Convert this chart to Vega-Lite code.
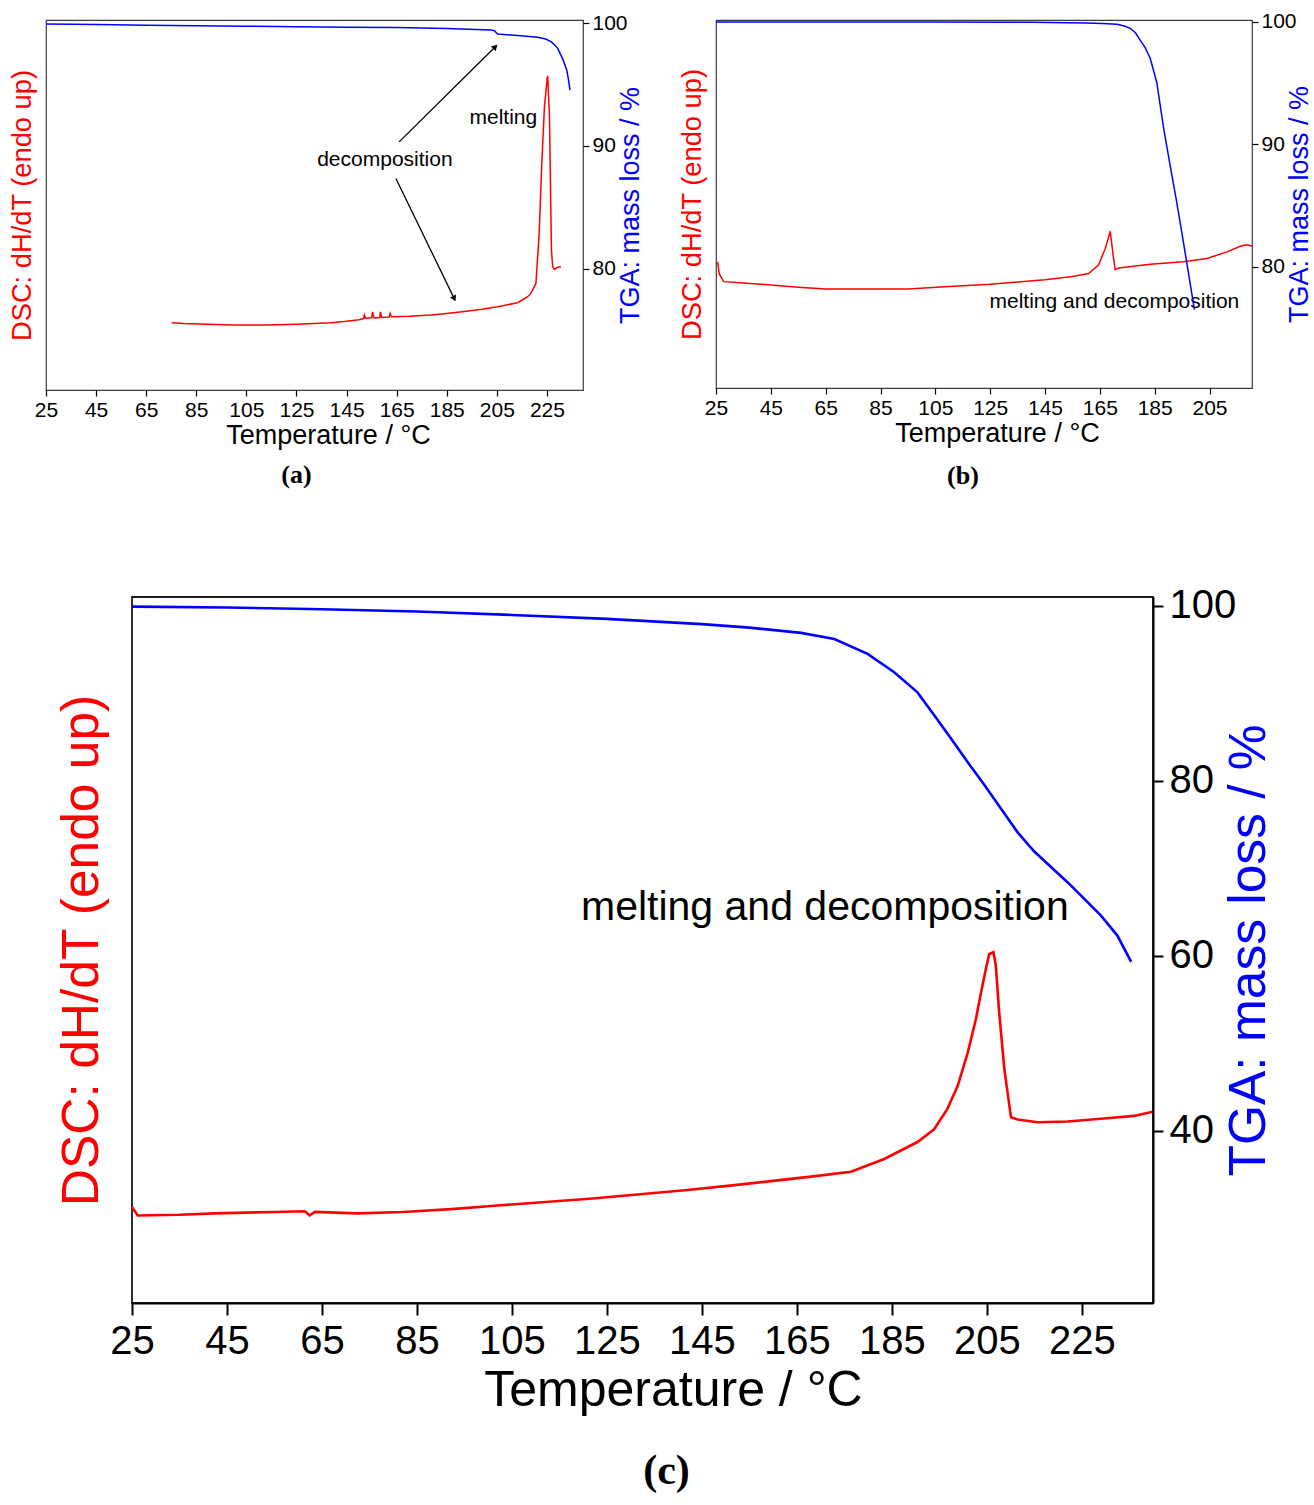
{
  "$schema": "https://vega.github.io/schema/vega-lite/v6.json",
  "background": "white",
  "padding": {"left": 7, "top": 10, "right": 0, "bottom": 0},
  "spacing": 94,
  "config": {
    "font": "Liberation Sans",
    "axis": {"grid": false, "labelColor": "#000000", "titleColor": "#000000", "titleFontWeight": "normal", "tickColor": "#000000", "domainColor": "#000000", "labelFont": "Liberation Sans", "titleFont": "Liberation Sans", "labelFlush": false, "labelOverlap": false},
    "view": {"stroke": "#3c3c3c", "strokeWidth": 1.2},
    "title": {"font": "Liberation Serif", "color": "#000000"},
    "text": {"font": "Liberation Sans"}
  },
  "datasets": {
    "dscA": [
      {"T": 75.2, "dsc": 18.2}, {"T": 80, "dsc": 18.0}, {"T": 89.5, "dsc": 17.75}, {"T": 100, "dsc": 17.6}, {"T": 113.5, "dsc": 17.6}, {"T": 125, "dsc": 17.8}, {"T": 138.8, "dsc": 18.2}, {"T": 145, "dsc": 18.6}, {"T": 150, "dsc": 19.0}, {"T": 151.8, "dsc": 19.3}, {"T": 152.1, "dsc": 20.3}, {"T": 152.6, "dsc": 19.4}, {"T": 155, "dsc": 19.5}, {"T": 155.4, "dsc": 21.1}, {"T": 155.9, "dsc": 19.5}, {"T": 158.2, "dsc": 19.6}, {"T": 158.5, "dsc": 21.1}, {"T": 159, "dsc": 19.6}, {"T": 162, "dsc": 19.7}, {"T": 162.4, "dsc": 20.7}, {"T": 162.9, "dsc": 19.8}, {"T": 170, "dsc": 19.9}, {"T": 178.7, "dsc": 20.3}, {"T": 185, "dsc": 20.7}, {"T": 192, "dsc": 21.2}, {"T": 199, "dsc": 21.8}, {"T": 205.3, "dsc": 22.5}, {"T": 213.3, "dsc": 23.6}, {"T": 217.3, "dsc": 25.2}, {"T": 218.6, "dsc": 26.1}, {"T": 220.6, "dsc": 28.8}, {"T": 221.9, "dsc": 42.4}, {"T": 222.9, "dsc": 60.4}, {"T": 224, "dsc": 76.6}, {"T": 225.1, "dsc": 84.2}, {"T": 225.3, "dsc": 84.9}, {"T": 226, "dsc": 73.9}, {"T": 226.4, "dsc": 55.9}, {"T": 226.8, "dsc": 37.8}, {"T": 227.3, "dsc": 33.3}, {"T": 228, "dsc": 32.6}, {"T": 229.3, "dsc": 33.2}, {"T": 230.6, "dsc": 33.3}
    ],
    "tgaA": [
      {"T": 25, "tga": 99.94}, {"T": 45, "tga": 99.9}, {"T": 65, "tga": 99.85}, {"T": 85, "tga": 99.8}, {"T": 105, "tga": 99.76}, {"T": 125, "tga": 99.72}, {"T": 145, "tga": 99.67}, {"T": 165, "tga": 99.65}, {"T": 185, "tga": 99.58}, {"T": 202.6, "tga": 99.45}, {"T": 204, "tga": 99.4}, {"T": 205.3, "tga": 99.13}, {"T": 213.3, "tga": 99.0}, {"T": 221.3, "tga": 98.86}, {"T": 224.5, "tga": 98.72}, {"T": 226.6, "tga": 98.5}, {"T": 228, "tga": 98.25}, {"T": 229.3, "tga": 97.96}, {"T": 231.3, "tga": 97.1}, {"T": 232.9, "tga": 96.2}, {"T": 233.6, "tga": 95.4}, {"T": 234.2, "tga": 94.55}
    ],
    "notesA": [
      {"T": 207.6, "tga": 92.24, "label": "melting"},
      {"T": 160.3, "tga": 88.84, "label": "decomposition"}
    ],
    "arrowsA": [
      {"T": 166.0, "tga": 90.33, "T2": 204.4, "tga2": 98.09, "target": "mass step"},
      {"T": 164.7, "tga": 87.35, "T2": 188.0, "tga2": 77.55, "target": "heat flow"}
    ],
    "tipsA": [
      {"T": 204.4, "tga": 98.09, "target": "mass step"},
      {"T": 188.0, "tga": 77.55, "target": "heat flow"}
    ],
    "dscB": [
      {"T": 25.6, "dsc": 34.3}, {"T": 26.2, "dsc": 31.0}, {"T": 27.8, "dsc": 28.9}, {"T": 35, "dsc": 28.5}, {"T": 45, "dsc": 28.0}, {"T": 55, "dsc": 27.4}, {"T": 65, "dsc": 26.9}, {"T": 80, "dsc": 26.9}, {"T": 95, "dsc": 26.9}, {"T": 110, "dsc": 27.6}, {"T": 125, "dsc": 28.2}, {"T": 135, "dsc": 28.8}, {"T": 145, "dsc": 29.4}, {"T": 155, "dsc": 30.3}, {"T": 160.9, "dsc": 31.1}, {"T": 164.5, "dsc": 33.4}, {"T": 167, "dsc": 37.9}, {"T": 168.8, "dsc": 42.6}, {"T": 170, "dsc": 35.2}, {"T": 170.6, "dsc": 32.2}, {"T": 172, "dsc": 32.6}, {"T": 174.9, "dsc": 32.9}, {"T": 183.4, "dsc": 33.6}, {"T": 195.5, "dsc": 34.3}, {"T": 204.1, "dsc": 35.2}, {"T": 211.4, "dsc": 37.0}, {"T": 216.2, "dsc": 38.5}, {"T": 218.5, "dsc": 38.9}, {"T": 220.5, "dsc": 38.6}
    ],
    "tgaB": [
      {"T": 25, "tga": 99.97}, {"T": 60, "tga": 99.97}, {"T": 100, "tga": 99.97}, {"T": 140, "tga": 99.95}, {"T": 160, "tga": 99.9}, {"T": 166, "tga": 99.85}, {"T": 171.2, "tga": 99.8}, {"T": 174, "tga": 99.65}, {"T": 176.1, "tga": 99.46}, {"T": 178, "tga": 99.1}, {"T": 179.7, "tga": 98.5}, {"T": 181.5, "tga": 97.9}, {"T": 183.4, "tga": 97.0}, {"T": 185.8, "tga": 95.0}, {"T": 188.2, "tga": 91.4}, {"T": 190.7, "tga": 88.2}, {"T": 193.1, "tga": 85.2}, {"T": 195.2, "tga": 82.4}, {"T": 199.5, "tga": 76.5}
    ],
    "notesB": [
      {"T": 170.3, "tga": 77.14, "label": "melting and decomposition"}
    ],
    "dscC": [
      {"T": 25, "dsc": 13.6}, {"T": 26.2, "dsc": 12.4}, {"T": 35, "dsc": 12.5}, {"T": 42.5, "dsc": 12.7}, {"T": 55, "dsc": 12.9}, {"T": 61.4, "dsc": 13.0}, {"T": 62.4, "dsc": 12.4}, {"T": 63.5, "dsc": 12.9}, {"T": 72.4, "dsc": 12.7}, {"T": 82, "dsc": 12.9}, {"T": 92.3, "dsc": 13.3}, {"T": 102, "dsc": 13.8}, {"T": 112.1, "dsc": 14.3}, {"T": 122, "dsc": 14.8}, {"T": 132, "dsc": 15.4}, {"T": 142, "dsc": 16.0}, {"T": 151.9, "dsc": 16.7}, {"T": 160, "dsc": 17.3}, {"T": 168, "dsc": 17.9}, {"T": 176.4, "dsc": 18.6}, {"T": 183.4, "dsc": 20.4}, {"T": 190.4, "dsc": 22.8}, {"T": 193.9, "dsc": 24.6}, {"T": 196.7, "dsc": 27.5}, {"T": 198.9, "dsc": 30.8}, {"T": 201, "dsc": 35.5}, {"T": 202.7, "dsc": 40.2}, {"T": 203.8, "dsc": 44.0}, {"T": 204.8, "dsc": 47.3}, {"T": 205.5, "dsc": 49.4}, {"T": 206.4, "dsc": 49.7}, {"T": 206.9, "dsc": 47.8}, {"T": 207.6, "dsc": 41.2}, {"T": 208.7, "dsc": 33.1}, {"T": 210.1, "dsc": 26.3}, {"T": 211.5, "dsc": 26.0}, {"T": 215.7, "dsc": 25.6}, {"T": 222, "dsc": 25.7}, {"T": 229, "dsc": 26.1}, {"T": 236, "dsc": 26.5}, {"T": 239.9, "dsc": 27.1}
    ],
    "tgaC": [
      {"T": 25, "tga": 99.9}, {"T": 45, "tga": 99.8}, {"T": 65, "tga": 99.6}, {"T": 85, "tga": 99.35}, {"T": 105, "tga": 98.95}, {"T": 125, "tga": 98.5}, {"T": 145, "tga": 97.9}, {"T": 155, "tga": 97.5}, {"T": 165.9, "tga": 96.9}, {"T": 172.9, "tga": 96.2}, {"T": 179.9, "tga": 94.5}, {"T": 185.5, "tga": 92.4}, {"T": 190.4, "tga": 90.1}, {"T": 193.9, "tga": 87.5}, {"T": 197.5, "tga": 84.8}, {"T": 201, "tga": 82.1}, {"T": 204.5, "tga": 79.5}, {"T": 208, "tga": 76.8}, {"T": 211.5, "tga": 74.1}, {"T": 215, "tga": 71.9}, {"T": 222, "tga": 68.4}, {"T": 229, "tga": 64.6}, {"T": 232.5, "tga": 62.3}, {"T": 235.4, "tga": 59.3}
    ],
    "notesC": [
      {"T": 170.9, "tga": 65.4, "label": "melting and decomposition"}
    ]
  },
  "vconcat": [
    {
      "spacing": 33,
      "hconcat": [
        {
          "width": 537,
          "height": 370,
          "title": {"text": "(a)", "orient": "bottom", "fontSize": 26, "fontWeight": "bold", "anchor": "middle", "frame": "group", "dx": -18, "offset": 14},
          "encoding": {
            "x": {"field": "T", "type": "quantitative", "scale": {"domain": [25, 239.4], "nice": false, "zero": false},
                  "axis": {"values": [25, 45, 65, 85, 105, 125, 145, 165, 185, 205, 225], "title": "Temperature / °C", "titleFontSize": 27, "titlePadding": 2, "titleX": 282, "labelFontSize": 21, "labelPadding": 3, "labelDx": 4, "tickSize": 6, "tickWidth": 1.2, "domain": false}}
          },
          "layer": [
            {
              "data": {"name": "dscA"},
              "mark": {"type": "line", "color": "#ff0000", "strokeWidth": 1.5},
              "encoding": {
                "y": {"field": "dsc", "type": "quantitative", "scale": {"domain": [0, 100], "nice": false, "zero": false},
                      "axis": {"orient": "left", "title": "DSC: dH/dT (endo up)", "titleColor": "#ff0000", "titleFontSize": 27.3, "titlePadding": 10, "labels": false, "ticks": false, "domain": false}}
              }
            },
            {
              "encoding": {
                "y": {"field": "tga", "type": "quantitative", "scale": {"domain": [70.1, 100.27], "nice": false, "zero": false},
                      "axis": {"orient": "right", "values": [80, 90, 100], "title": "TGA: mass loss / %", "titleColor": "#0000ff", "titleFontSize": 27, "titleAngle": 270, "titleBaseline": "top", "titlePadding": -10, "labelFontSize": 21, "labelPadding": 3, "tickSize": 6, "tickWidth": 1.2, "domain": false}}
              },
              "layer": [
                {
                  "data": {"name": "tgaA"},
                  "mark": {"type": "line", "color": "#0000ff", "strokeWidth": 1.5}
                },
                {
                  "data": {"name": "notesA"},
                  "mark": {"type": "text", "fontSize": 21, "color": "#000000", "align": "center", "baseline": "middle"},
                  "encoding": {"text": {"field": "label"}}
                },
                {
                  "data": {"name": "arrowsA"},
                  "mark": {"type": "rule", "color": "#000000", "strokeWidth": 1.3},
                  "encoding": {"x2": {"field": "T2"}, "y2": {"field": "tga2"}}
                },
                {
                  "data": {"name": "tipsA"},
                  "transform": [{"filter": {"field": "target", "equal": "mass step"}}],
                  "mark": {"type": "point", "shape": "triangle-up", "filled": true, "color": "#000000", "opacity": 1, "size": 45, "angle": 45}
                },
                {
                  "data": {"name": "tipsA"},
                  "transform": [{"filter": {"field": "target", "equal": "heat flow"}}],
                  "mark": {"type": "point", "shape": "triangle-up", "filled": true, "color": "#000000", "opacity": 1, "size": 45, "angle": 154}
                }
              ]
            }
          ],
          "resolve": {"scale": {"y": "independent"}, "axis": {"y": "independent"}}
        },
        {
          "width": 536,
          "height": 368,
          "title": {"text": "(b)", "orient": "bottom", "fontSize": 26, "fontWeight": "bold", "anchor": "middle", "frame": "group", "dx": -21, "offset": 17},
          "encoding": {
            "x": {"field": "T", "type": "quantitative", "scale": {"domain": [25, 220.5], "nice": false, "zero": false},
                  "axis": {"values": [25, 45, 65, 85, 105, 125, 145, 165, 185, 205], "title": "Temperature / °C", "titleFontSize": 27, "titlePadding": 2, "titleX": 281, "labelFontSize": 21, "labelPadding": 3, "labelDx": 4, "tickSize": 6, "tickWidth": 1.2, "domain": false}}
          },
          "layer": [
            {
              "data": {"name": "dscB"},
              "mark": {"type": "line", "color": "#ff0000", "strokeWidth": 1.5},
              "encoding": {
                "y": {"field": "dsc", "type": "quantitative", "scale": {"domain": [0, 100], "nice": false, "zero": false},
                      "axis": {"orient": "left", "title": "DSC: dH/dT (endo up)", "titleColor": "#ff0000", "titleFontSize": 27.3, "titlePadding": 10, "labels": false, "ticks": false, "domain": false}}
              }
            },
            {
              "encoding": {
                "y": {"field": "tga", "type": "quantitative", "scale": {"domain": [70.1, 100.14], "nice": false, "zero": false},
                      "axis": {"orient": "right", "values": [80, 90, 100], "title": "TGA: mass loss / %", "titleColor": "#0000ff", "titleFontSize": 27, "titleAngle": 270, "titleBaseline": "top", "titlePadding": -10, "labelFontSize": 21, "labelPadding": 3, "tickSize": 6, "tickWidth": 1.2, "domain": false}}
              },
              "layer": [
                {
                  "data": {"name": "notesB"},
                  "mark": {"type": "text", "fontSize": 21, "color": "#000000", "align": "center", "baseline": "middle"},
                  "encoding": {"text": {"field": "label"}}
                },
                {
                  "data": {"name": "tgaB"},
                  "mark": {"type": "line", "color": "#0000ff", "strokeWidth": 1.5}
                }
              ]
            }
          ],
          "resolve": {"scale": {"y": "independent"}, "axis": {"y": "independent"}}
        }
      ]
    },
    {
      "spacing": 8,
      "hconcat": [
        {
          "width": 1,
          "height": 706,
          "view": {"stroke": null},
          "data": {"values": []},
          "mark": {"type": "point", "opacity": 0},
          "encoding": {}
        },
        {
          "width": 1021,
          "height": 706,
          "view": {"stroke": "#1a1a1a", "strokeWidth": 1.8},
          "title": {"text": "(c)", "orient": "bottom", "fontSize": 42, "fontWeight": "bold", "anchor": "middle", "frame": "group", "dx": 24, "offset": 36},
          "encoding": {
            "x": {"field": "T", "type": "quantitative", "scale": {"domain": [25, 240], "nice": false, "zero": false},
                  "axis": {"values": [25, 45, 65, 85, 105, 125, 145, 165, 185, 205, 225], "title": "Temperature / °C", "titleFontSize": 50, "titlePadding": 4, "titleX": 541, "labelFontSize": 40, "labelPadding": 6, "labelDx": 8, "tickSize": 12, "tickWidth": 2, "domain": true, "domainWidth": 2}}
          },
          "layer": [
            {
              "data": {"name": "dscC"},
              "mark": {"type": "line", "color": "#ff0000", "strokeWidth": 2.6},
              "encoding": {
                "y": {"field": "dsc", "type": "quantitative", "scale": {"domain": [0, 100], "nice": false, "zero": false},
                      "axis": {"orient": "left", "title": "DSC: dH/dT (endo up)", "titleColor": "#ff0000", "titleFontSize": 51.5, "titlePadding": 24, "labels": false, "ticks": false, "domain": false}}
              }
            },
            {
              "encoding": {
                "y": {"field": "tga", "type": "quantitative", "scale": {"domain": [20.3, 101.0], "nice": false, "zero": false},
                      "axis": {"orient": "right", "values": [40, 60, 80, 100], "title": "TGA: mass loss / %", "titleColor": "#0000ff", "titleFontSize": 51.5, "titleAngle": 270, "titleBaseline": "top", "titlePadding": -12, "labelFontSize": 40, "labelPadding": 6, "tickSize": 10, "tickWidth": 2, "domain": true, "domainWidth": 2}}
              },
              "layer": [
                {
                  "data": {"name": "notesC"},
                  "mark": {"type": "text", "fontSize": 41, "color": "#000000", "align": "center", "baseline": "middle"},
                  "encoding": {"text": {"field": "label"}}
                },
                {
                  "data": {"name": "tgaC"},
                  "mark": {"type": "line", "color": "#0000ff", "strokeWidth": 2.6}
                }
              ]
            }
          ],
          "resolve": {"scale": {"y": "independent"}, "axis": {"y": "independent"}}
        }
      ]
    }
  ]
}
